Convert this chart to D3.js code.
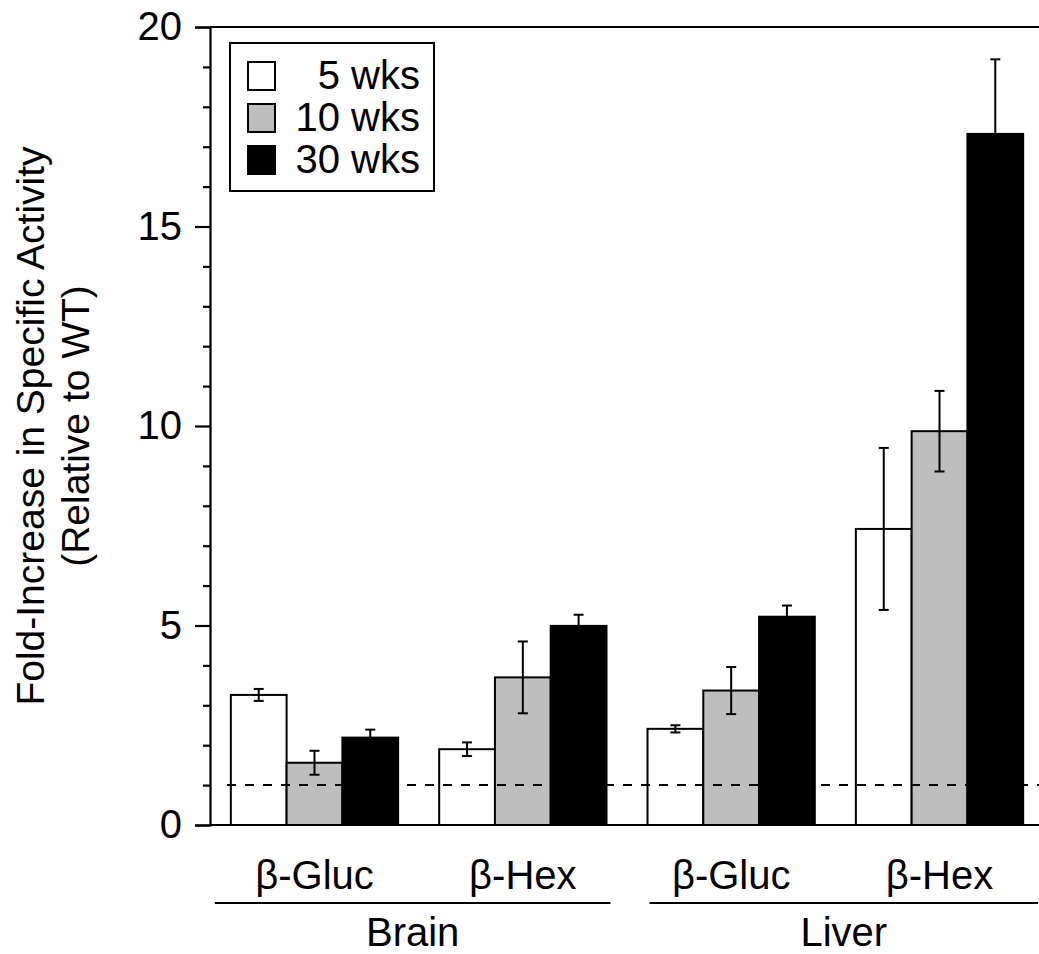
<!DOCTYPE html>
<html>
<head>
<meta charset="utf-8">
<script src="https://cdn.jsdelivr.net/npm/d3@7"></script>
<style>
  html, body { margin: 0; padding: 0; background: #fff; }
  text { font-family: "Liberation Sans", Arial, Helvetica, sans-serif; fill: #000; }
</style>
</head>
<body>
<svg id="chart" width="1039" height="954"></svg>
<script>
// ---- data ----
const groupIds = ["brain-gluc", "brain-hex", "liver-gluc", "liver-hex"];
const groupLabels = ["β-Gluc", "β-Hex", "β-Gluc", "β-Hex"];
const tissues = ["Brain", "Liver"];
const tissueGroups = [["brain-gluc", "brain-hex"], ["liver-gluc", "liver-hex"]];
const seriesNames = ["5 wks", "10 wks", "30 wks"];
const seriesColors = ["#ffffff", "#bebebe", "#000000"];
const wk5 = [3.26, 1.90, 2.41, 7.42];
const wk5err = [0.15, 0.17, 0.09, 2.03];
const wk10 = [1.56, 3.70, 3.37, 9.87];
const wk10err = [0.30, 0.90, 0.59, 1.01];
const wk30 = [2.19, 4.99, 5.22, 17.32];
const wk30err = [0.20, 0.28, 0.28, 1.87];
const majorTicks = [0, 5, 10, 15, 20];
const minorTicks = [1, 2, 3, 4, 6, 7, 8, 9, 11, 12, 13, 14, 16, 17, 18, 19];
const referenceLevel = 1;
const yTitle = ["Fold-Increase in Specific Activity", "(Relative to WT)"];

(function () {
const values = [wk5, wk10, wk30];
const errors = [wk5err, wk10err, wk30err];

// ---- layout ----
const svg = d3.select("#chart");
const mLeft = 210, mRight = 1044, mTop = 27, mBottom = 825;

const x0 = d3.scaleBand().domain(groupIds).range([mLeft, mRight])
  .paddingInner(0.197).paddingOuter(0.1);
const x1 = d3.scaleBand().domain(seriesNames).range([0, x0.bandwidth()]).padding(0);
const y = d3.scaleLinear().domain([0, 20]).range([mBottom, mTop]);

const bars = [];
groupIds.forEach((g, gi) => {
  seriesNames.forEach((s, si) => {
    bars.push({ g, s, si, v: values[si][gi], e: errors[si][gi] });
  });
});

// bars
svg.append("g").selectAll("rect").data(bars).join("rect")
  .attr("x", d => x0(d.g) + x1(d.s))
  .attr("y", d => y(d.v))
  .attr("width", x1.bandwidth())
  .attr("height", d => y(0) - y(d.v))
  .attr("fill", d => seriesColors[d.si])
  .attr("stroke", "#000")
  .attr("stroke-width", 2);

// dashed reference line
svg.append("line")
  .attr("x1", mLeft + 17).attr("x2", 1039)
  .attr("y1", y(referenceLevel)).attr("y2", y(referenceLevel))
  .attr("stroke", "#000").attr("stroke-width", 2)
  .attr("stroke-dasharray", "9,9");

// error bars
const eb = svg.append("g").attr("stroke", "#000").attr("stroke-width", 2);
bars.forEach(d => {
  const cx = x0(d.g) + x1(d.s) + x1.bandwidth() / 2;
  eb.append("line").attr("x1", cx).attr("x2", cx)
    .attr("y1", y(d.v - d.e)).attr("y2", y(d.v + d.e));
  [d.v - d.e, d.v + d.e].forEach(t => {
    eb.append("line").attr("x1", cx - 5).attr("x2", cx + 5)
      .attr("y1", y(t)).attr("y2", y(t));
  });
});

// y axis
const yAxis = d3.axisLeft(y).tickValues(majorTicks).tickSize(15).tickPadding(13)
  .tickFormat(d3.format("d"));
const ya = svg.append("g").attr("transform", `translate(${mLeft},0)`).call(yAxis);
ya.select(".domain").attr("stroke", "#000").attr("stroke-width", 2.2);
ya.selectAll(".tick line").attr("stroke", "#000").attr("stroke-width", 2.2);
ya.selectAll(".tick text").attr("font-size", 40)
  .attr("font-family", '"Liberation Sans", Arial, Helvetica, sans-serif').attr("fill", "#000");

const yMinor = d3.axisLeft(y).tickValues(minorTicks).tickSize(7).tickFormat("");
const ym = svg.append("g").attr("transform", `translate(${mLeft},0)`).call(yMinor);
ym.select(".domain").remove();
ym.selectAll(".tick line").attr("stroke", "#000").attr("stroke-width", 2.2);

// top frame and baseline
svg.append("line").attr("x1", mLeft).attr("x2", 1039).attr("y1", y(20)).attr("y2", y(20))
  .attr("stroke", "#000").attr("stroke-width", 2.2);
svg.append("line").attr("x1", mLeft).attr("x2", 1039).attr("y1", y(0)).attr("y2", y(0))
  .attr("stroke", "#000").attr("stroke-width", 2.2);

// y title
const titleG = svg.append("g").attr("transform", `translate(0,${(mTop + mBottom) / 2}) rotate(-90)`);
titleG.append("text").attr("x", 0).attr("y", 44).attr("text-anchor", "middle")
  .attr("font-size", 39).text(yTitle[0]);
titleG.append("text").attr("x", 0).attr("y", 89).attr("text-anchor", "middle")
  .attr("font-size", 39).text(yTitle[1]);

// category labels
svg.append("g").selectAll("text").data(groupIds).join("text")
  .attr("x", d => x0(d) + x0.bandwidth() / 2)
  .attr("y", 889)
  .attr("text-anchor", "middle")
  .attr("font-size", 40)
  .text((d, i) => groupLabels[i]);

// tissue lines and labels
const tissueSpans = [
  [x0(tissueGroups[0][0]) - 16, x0(tissueGroups[0][1]) + x0.bandwidth() + 4],
  [x0(tissueGroups[1][0]) + 2, x0(tissueGroups[1][1]) + x0.bandwidth() + 15]
];
tissues.forEach((t, i) => {
  const [a, b] = tissueSpans[i];
  svg.append("line").attr("x1", a).attr("x2", b).attr("y1", 903).attr("y2", 903)
    .attr("stroke", "#000").attr("stroke-width", 2);
  svg.append("text").attr("x", (a + b) / 2).attr("y", 946)
    .attr("text-anchor", "middle").attr("font-size", 40).text(t);
});

// legend
const lg = svg.append("g");
lg.append("rect").attr("x", 230).attr("y", 43).attr("width", 204).attr("height", 148)
  .attr("fill", "#fff").attr("stroke", "#000").attr("stroke-width", 2);
seriesNames.forEach((s, i) => {
  const ry = 62 + i * 42;
  lg.append("rect").attr("x", 248).attr("y", ry).attr("width", 27).attr("height", 28)
    .attr("fill", seriesColors[i]).attr("stroke", "#000").attr("stroke-width", 2);
  lg.append("text").attr("x", 420).attr("y", ry + 27).attr("text-anchor", "end")
    .attr("font-size", 40).text(s);
});
})();
</script>
</body>
</html>
